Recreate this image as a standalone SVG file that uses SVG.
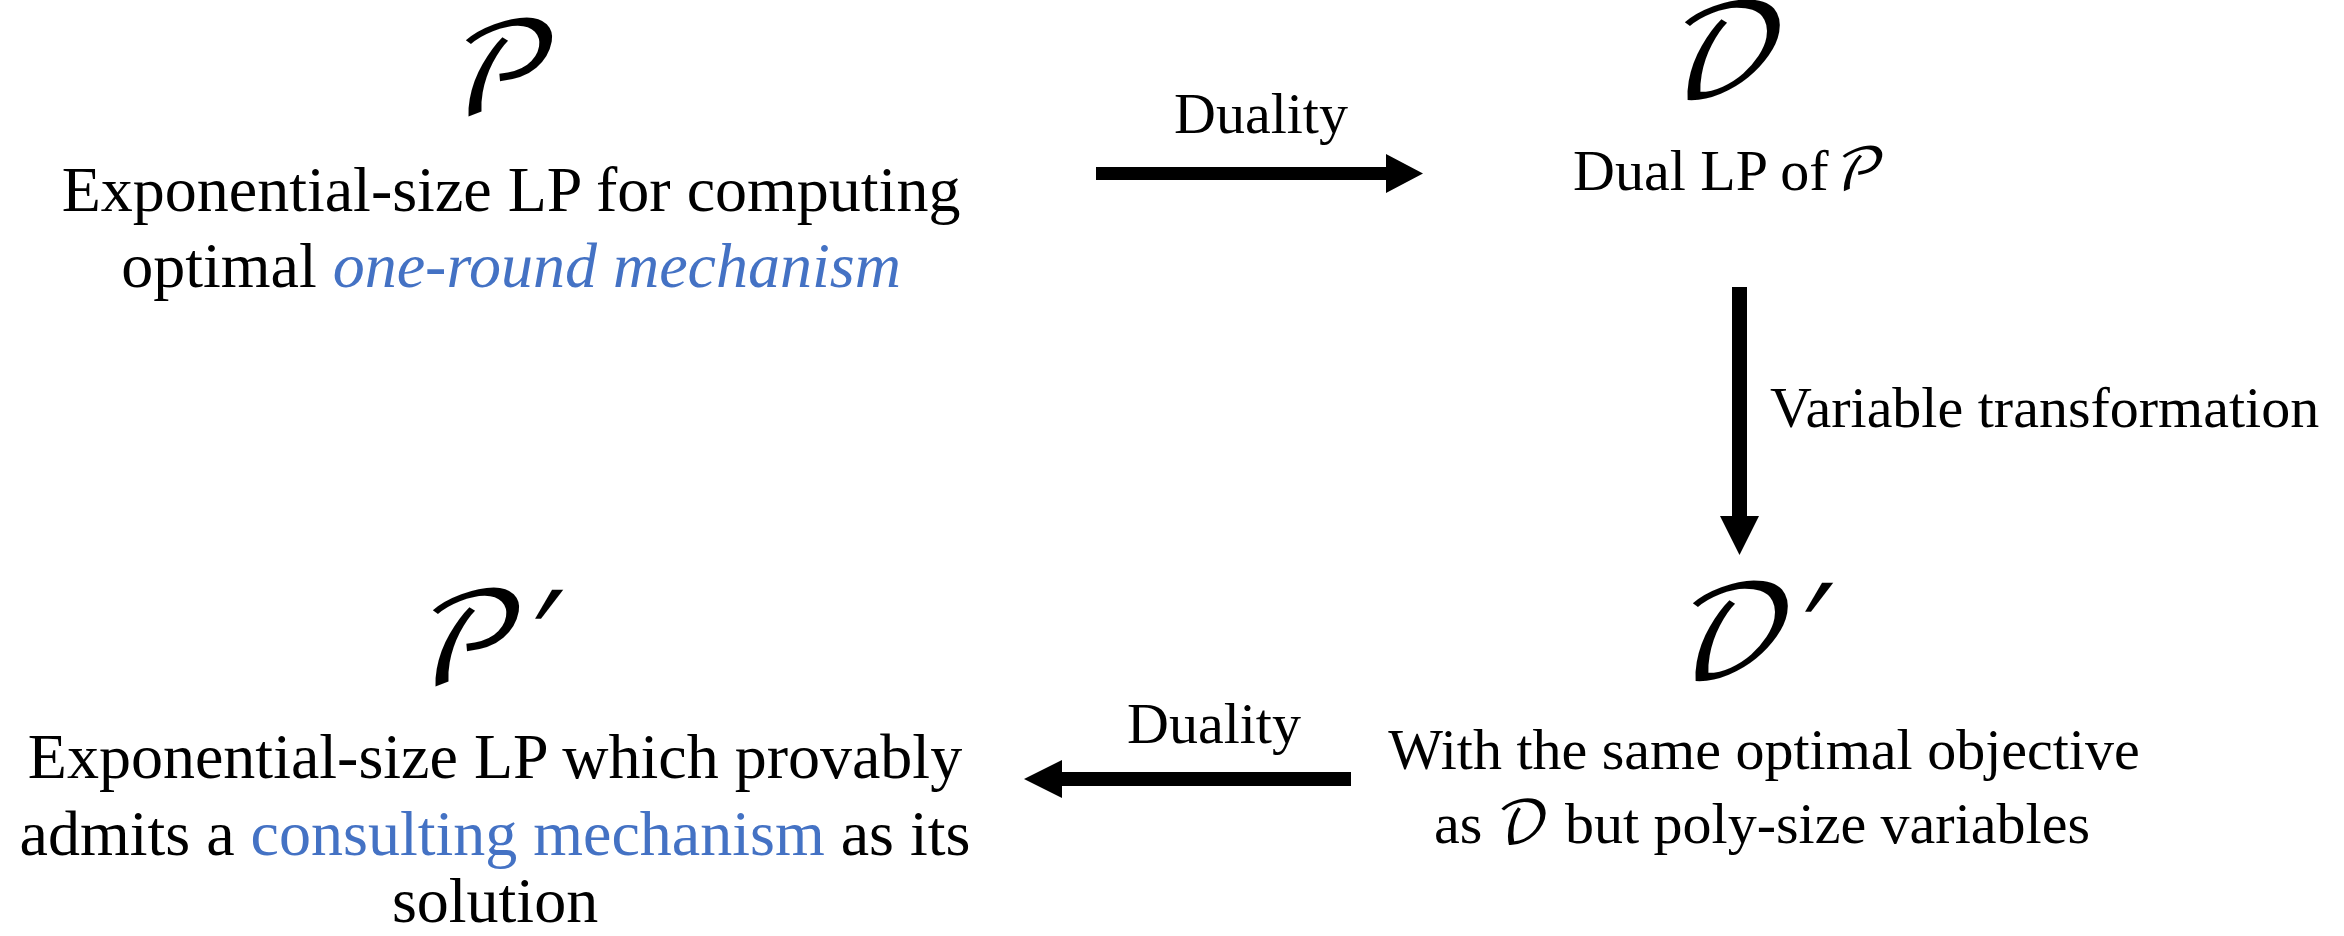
<svg xmlns="http://www.w3.org/2000/svg" width="2344" height="936" viewBox="0 0 2344 936">
<style>
.t{font-family:"Liberation Serif","Times New Roman",serif;fill:#000;}
.big{font-size:64px;}
.med{font-size:58px;}
.blue{fill:#4472C4;}
.it{font-style:italic;}
.sym{font-family:"DejaVu Math TeX Gyre","DejaVu Serif","DejaVu Sans",serif;font-style:normal;font-feature-settings:"ss01";}
.huge{font-size:126px;}
.arrow{fill:#000;stroke:none;}
</style>
<rect width="2344" height="936" fill="#fff"/>
<g id="node-P">
<text class="t sym huge" transform="translate(496,114) skewX(-10)" text-anchor="middle">𝒫</text>
<text class="t big" x="511" y="211" text-anchor="middle">Exponential-size LP for computing</text>
<text class="t big" x="511" y="287" text-anchor="middle">optimal <tspan class="blue it">one-round mechanism</tspan></text>
</g>
<g id="node-D">
<text class="t sym huge" transform="translate(1720,96) skewX(-10)" text-anchor="middle">𝒟</text>
<text class="t med" x="1573" y="190">Dual LP of</text>
<text class="t sym med" transform="translate(1832,190) skewX(-10)">𝒫</text>
</g>
<g id="node-Dprime">
<text class="t sym huge" transform="translate(1747,677) skewX(-10)" text-anchor="middle">𝒟′</text>
<text class="t med" x="1764" y="769" text-anchor="middle">With the same optimal objective</text>
<text class="t med" x="1762" y="843" text-anchor="middle">as <tspan class="sym">𝒟</tspan> but poly-size variables</text>
</g>
<g id="node-Pprime">
<text class="t sym huge" transform="translate(482,684) skewX(-10)" text-anchor="middle">𝒫′</text>
<text class="t big" x="495" y="778" text-anchor="middle">Exponential-size LP which provably</text>
<text class="t big" x="495" y="855" text-anchor="middle">admits a <tspan class="blue">consulting mechanism</tspan> as its</text>
<text class="t big" x="495" y="922" text-anchor="middle">solution</text>
</g>
<g id="connectors">
<path class="arrow" d="M1096,167 L1386,167 L1386,154 L1423,173.5 L1386,193 L1386,180 L1096,180 Z"/>
<text class="t med" x="1261" y="133" text-anchor="middle">Duality</text>
<path class="arrow" d="M1732,287 L1747,287 L1747,516 L1759,516 L1739.5,555 L1720,516 L1732,516 Z"/>
<text class="t med" x="1770" y="427">Variable transformation</text>
<path class="arrow" d="M1351,772 L1062,772 L1062,760 L1024,779 L1062,798 L1062,786 L1351,786 Z"/>
<text class="t med" x="1214" y="743" text-anchor="middle">Duality</text>
</g>
</svg>
